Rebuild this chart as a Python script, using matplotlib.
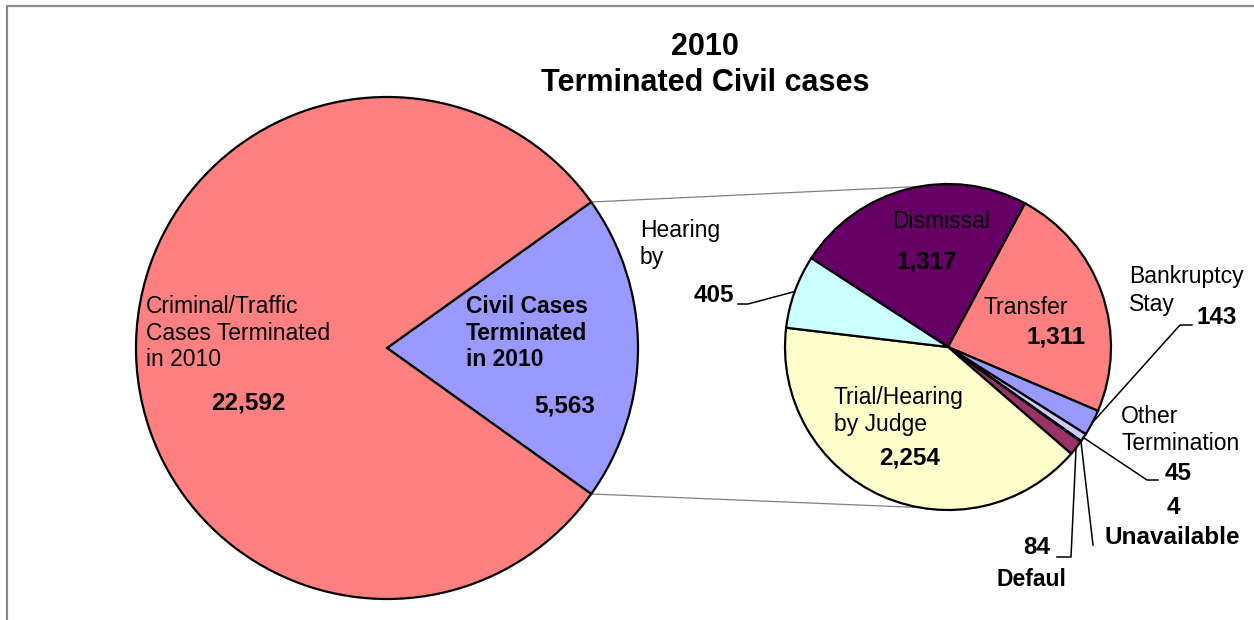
import numpy as np
import matplotlib
matplotlib.use("Agg")
import matplotlib.pyplot as plt

plt.rcParams['font.family'] = ['Liberation Sans', 'DejaVu Sans']

# data
big_labels = ["Civil Cases\nTerminated\nin 2010", "Criminal/Traffic\nCases Terminated\nin 2010"]
big_values = [5563, 22592]
big_colors = ["#9999FF", "#FF8080"]

small_labels = ["Dismissal", "Transfer", "Bankruptcy\nStay", "Other\nTermination",
                "Unavailable", "Defaul", "Trial/Hearing\nby Judge", "Hearing\nby"]
small_values = [1317, 1311, 143, 45, 4, 84, 2254, 405]
small_colors = ["#660066", "#FF8080", "#9999FF", "#CCCCFF",
                "#FFFFFF", "#993366", "#FFFFCC", "#CCFFFF"]

W, H = 1254, 620
fig = plt.figure(figsize=(W / 100, H / 100), dpi=100)
ax = fig.add_axes([0, 0, 1, 1])


def P(x, y):
    # image pixel coords -> axes coords
    return x, H - y


big_c, big_r = P(387, 348), 251
small_c, small_r = P(948, 347), 163

big_start = -big_values[0] / sum(big_values) * 180
wb, _ = ax.pie(big_values, colors=big_colors, startangle=big_start, center=big_c,
               radius=big_r, frame=True,
               wedgeprops=dict(edgecolor="black", linewidth=1.6))
ws, _ = ax.pie(small_values, colors=small_colors, startangle=147, counterclock=False,
               center=small_c, radius=small_r, frame=True,
               wedgeprops=dict(edgecolor="black", linewidth=1.6))


def edge_pt(c, r, ang):
    a = np.deg2rad(ang)
    return c[0] + r * np.cos(a), c[1] + r * np.sin(a)


def mid(w):
    return (w.theta1 + w.theta2) / 2


# connector lines between pies
civ = wb[0]
for ang_b, ang_s in [(civ.theta2, 100), (civ.theta1, 260)]:
    x0, y0 = edge_pt(big_c, big_r, ang_b)
    x1, y1 = edge_pt(small_c, small_r, ang_s)
    ax.plot([x0, x1], [y0, y1], color="#808080", lw=0.9, zorder=0)

fs = 16.5   # plain labels
fb = 17.5   # bold numbers
ls = 1.2
# big pie labels
ax.text(*P(146, 333), big_labels[1], fontsize=fs, ha="left", va="center", linespacing=ls)
ax.text(*P(248, 403), f"{big_values[1]:,}", fontsize=fb, weight="bold", ha="center", va="center")
ax.text(*P(466, 333), big_labels[0], fontsize=fs, weight="bold", ha="left", va="center", linespacing=ls)
ax.text(*P(565, 406), f"{big_values[0]:,}", fontsize=fb, weight="bold", ha="center", va="center")

# small pie inner labels
ax.text(*P(941, 222), small_labels[0], fontsize=fs, ha="center", va="center")
ax.text(*P(927, 262), f"{small_values[0]:,}", fontsize=fb, weight="bold", ha="center", va="center")
ax.text(*P(1026, 307), small_labels[1], fontsize=fs, ha="center", va="center")
ax.text(*P(1056, 337), f"{small_values[1]:,}", fontsize=fb, weight="bold", ha="center", va="center")
ax.text(*P(834, 411), small_labels[6], fontsize=fs, ha="left", va="center", linespacing=ls)
ax.text(*P(910, 458), f"{small_values[6]:,}", fontsize=fb, weight="bold", ha="center", va="center")

# outside labels
ax.text(*P(640, 244), small_labels[7], fontsize=fs, ha="left", va="center", linespacing=ls)
ax.text(*P(734, 296), f"{small_values[7]:,}", fontsize=fb, weight="bold", ha="right", va="center")
for k, line in enumerate(small_labels[2].split("\n")):
    ax.text(*P(1129, 277 + 27 * k), line, fontsize=fs, ha="left", va="center")
ax.text(*P(1217, 317), f"{small_values[2]:,}", fontsize=fb, weight="bold", ha="center", va="center")
ax.text(*P(1121, 430), small_labels[3], fontsize=fs, ha="left", va="center", linespacing=ls)
ax.text(*P(1178, 473), f"{small_values[3]:,}", fontsize=fb, weight="bold", ha="center", va="center")
ax.text(*P(1173, 508), f"{small_values[4]:,}", fontsize=fb, weight="bold", ha="center", va="center")
ax.text(*P(1172, 537), small_labels[4], fontsize=fb, weight="bold", ha="center", va="center")
ax.text(*P(1037, 548), f"{small_values[5]:,}", fontsize=fb, weight="bold", ha="center", va="center")
ax.text(*P(1031, 579), small_labels[5], fontsize=fs, weight="bold", ha="center", va="center")

# leader lines: (wedge index, list of image points ending near the label)
leaders = [
    (7, [(748, 304), (738, 304)]),
    (2, [(1180, 325), (1192, 325)]),
    (3, [(1147, 480), (1158, 480)]),
    (4, [(1093, 545)]),
    (5, [(1071, 557), (1057, 557)]),
]
for i, pts in leaders:
    x0, y0 = edge_pt(small_c, small_r, mid(ws[i]))
    xs = [x0] + [P(*p)[0] for p in pts]
    ys = [y0] + [P(*p)[1] for p in pts]
    ax.plot(xs, ys, color="black", lw=1.1)

# title
ax.text(*P(705, 47), "2010", fontsize=22, weight="bold", ha="center", va="center")
ax.text(*P(705, 83), "Terminated Civil cases", fontsize=22, weight="bold", ha="center", va="center")

# chart frame
ax.plot([7, 7, W + 5], [-5, H - 6, H - 6], color="#888888", lw=1.6)

ax.set_xlim(0, W)
ax.set_ylim(0, H)
ax.axis("off")
fig.savefig("out.png", dpi=100)
